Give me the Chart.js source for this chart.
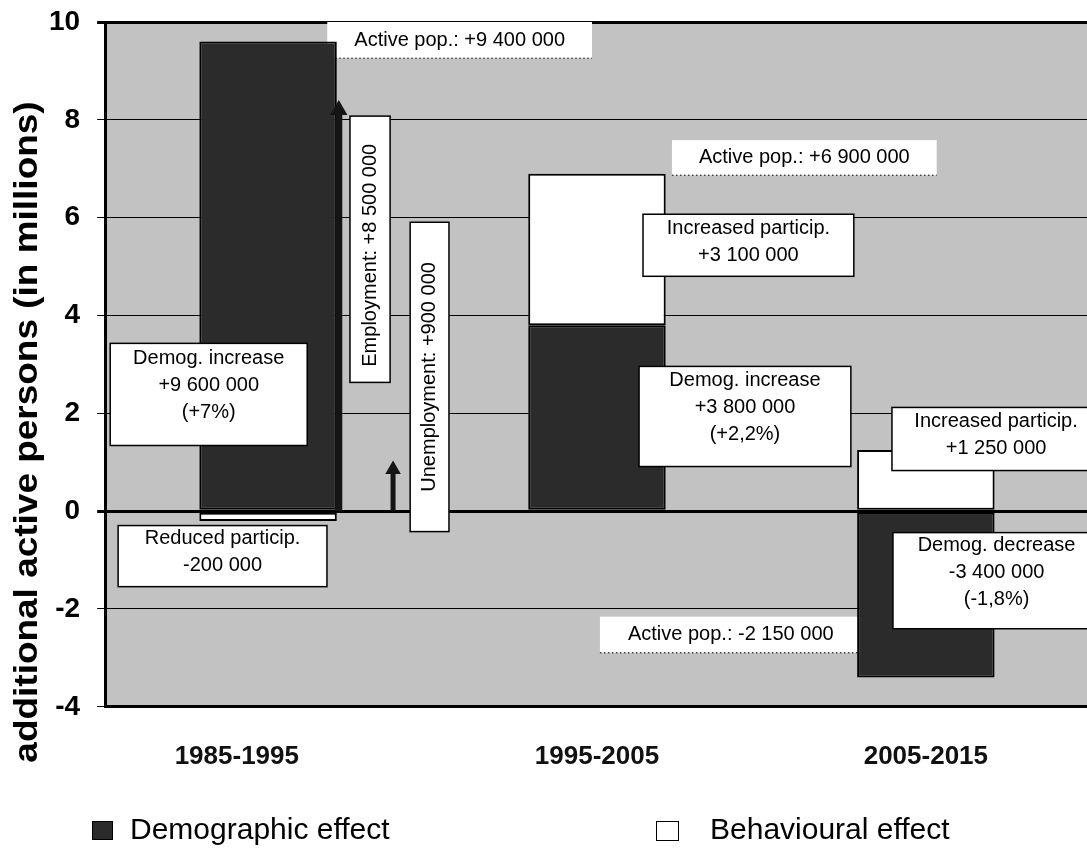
<!DOCTYPE html>
<html>
<head>
<meta charset="utf-8">
<script src="https://cdn.jsdelivr.net/npm/chart.js@4.4.1/dist/chart.umd.min.js"></script>
<style>
	html, body { margin: 0; padding: 0; background: #fff; }
</style>
</head>
<body>
<canvas id="labour-graph" width="1087" height="851"></canvas>
<script>
const periods = ["1985-1995", "1995-2005", "2005-2015"];
const demographicEffect = [9.6, 3.8, -3.4];
const behaviouralEffect = [-0.2, 3.1, 1.25];
const yTickValues = [-4, -2, 0, 2, 4, 6, 8, 10];

// the two arrows beside the first bar (employment / unemployment growth)
const arrowTops = [8.2, 0.85];
const arrowSlots = [0.215, 0.38];

// the first period label sits a little left of its bar in the original
const labelShift = [-0.095, 0, 0];

const FONT = "'Liberation Sans', Arial, sans-serif";
const DARK = "#2b2b2b";
const PLOT_BG = "#c2c2c2";

// text boxes, extents given in axis units
const notes = [
	{ lines: ["Active pop.: +9 400 000"], x: [0.18, 0.985], y: [10, 9.26], plain: true },
	{ lines: ["Active pop.: +6 900 000"], x: [1.228, 2.033], y: [7.585, 6.868], plain: true },
	{ lines: ["Active pop.: -2 150 000"], x: [1.009, 1.805], y: [-2.158, -2.895], plain: true },
	{ lines: ["Employment: +8 500 000"], x: [0.249, 0.371], y: [8.076, 2.632], vertical: true, dy: 6 },
	{ lines: ["Unemployment: +900 000"], x: [0.432, 0.55], y: [5.906, -0.418], vertical: true },
	{ lines: ["Demog. increase", "+9 600 000", "(+7%)"], x: [-0.48, 0.119], y: [3.43, 1.342], dy: -9 },
	{ lines: ["Reduced particip.", "-200 000"], x: [-0.456, 0.179], y: [-0.295, -1.544], dy: -4 },
	{ lines: ["Increased particip.", "+3 100 000"], x: [1.14, 1.781], y: [6.07, 4.801], dy: -3 },
	{ lines: ["Demog. increase", "+3 800 000", "(+2,2%)"], x: [1.128, 1.772], y: [2.959, 0.912], dy: -9 },
	{ lines: ["Increased particip.", "+1 250 000"], x: [1.897, 2.53], y: [2.12, 0.83], dy: -4 },
	{ lines: ["Demog. decrease", "-3 400 000", "(-1,8%)"], x: [1.9, 2.53], y: [-0.439, -2.404], dy: -8 }
];

function drawNote(chart, n) {
	const ctx = chart.ctx;
	const xs = chart.scales.x, ys = chart.scales.y;
	const l = xs.getPixelForValue(n.x[0]), r = xs.getPixelForValue(n.x[1]);
	const t = ys.getPixelForValue(n.y[0]), b = ys.getPixelForValue(n.y[1]);
	ctx.save();
	ctx.fillStyle = "#fff";
	ctx.fillRect(l, t, r - l, b - t);
	if (!n.plain) {
		ctx.strokeStyle = "#000";
		ctx.lineWidth = 1.5;
		ctx.strokeRect(l, t, r - l, b - t);
	} else {
		// dotted lower edge, as in the print
		ctx.strokeStyle = "#444";
		ctx.lineWidth = 1.5;
		ctx.setLineDash([1.5, 2.5]);
		ctx.beginPath();
		ctx.moveTo(l, b);
		ctx.lineTo(r, b);
		ctx.stroke();
		ctx.setLineDash([]);
	}
	ctx.fillStyle = "#000";
	ctx.font = "20px " + FONT;
	ctx.textAlign = "center";
	ctx.textBaseline = "middle";
	const cx = (l + r) / 2, cy = (t + b) / 2 + (n.dy || 0);
	if (n.vertical) {
		ctx.translate(cx, cy);
		ctx.rotate(-Math.PI / 2);
		ctx.fillText(n.lines[0], 0, 0);
	} else {
		n.lines.forEach((s, i) => ctx.fillText(s, cx, cy + (i - (n.lines.length - 1) / 2) * 27));
	}
	ctx.restore();
}

const decorations = {
	id: "decorations",
	beforeDraw(chart) {
		const { ctx, chartArea: a } = chart;
		ctx.save();
		ctx.fillStyle = PLOT_BG;
		ctx.fillRect(a.left, a.top, a.right - a.left, a.bottom - a.top);
		ctx.restore();
	},
	beforeDatasetsDraw(chart) {
		notes.filter(n => n.plain).forEach(n => drawNote(chart, n));
	},
	afterDatasetsDraw(chart) {
		notes.filter(n => !n.plain).forEach(n => drawNote(chart, n));
	},
	afterDraw(chart) {
		const ctx = chart.ctx;
		ctx.save();
		// y title
		ctx.translate(28, 432);
		ctx.rotate(-Math.PI / 2);
		ctx.scale(1.12, 1);
		ctx.font = "bold 33px " + FONT;
		ctx.fillStyle = "#000";
		ctx.textAlign = "center";
		ctx.textBaseline = "middle";
		ctx.fillText("additional active persons (in millions)", 0, 0);
		ctx.restore();

		// legend
		ctx.save();
		ctx.font = "30px " + FONT;
		ctx.textBaseline = "middle";
		ctx.lineWidth = 1;
		ctx.strokeStyle = "#000";
		ctx.fillStyle = DARK;
		ctx.fillRect(92, 821, 20, 18);
		ctx.strokeRect(92.5, 821.5, 20, 18);
		ctx.fillStyle = "#fff";
		ctx.fillRect(656, 821, 22, 19);
		ctx.strokeRect(656.5, 821.5, 22, 19);
		ctx.fillStyle = "#000";
		ctx.fillText("Demographic effect", 130, 831);
		ctx.fillText("Behavioural effect", 710, 831);
		ctx.restore();
	}
};

const ctx = document.getElementById("labour-graph");

const arrowSet = (i) => ({
	type: "line",
	stack: "arrow" + i,
	data: [{ x: arrowSlots[i], y: 0 }, { x: arrowSlots[i], y: arrowTops[i] }],
	borderColor: "#151515",
	borderWidth: i === 0 ? 7 : 5,
	pointStyle: "triangle",
	pointRadius: [0, i === 0 ? 10 : 9],
	pointBackgroundColor: "#151515",
	pointBorderWidth: 0,
	fill: false
});

new Chart(ctx, {
	type: "bar",
	data: {
		datasets: [
			arrowSet(0),
			arrowSet(1),
			{
				label: "Demographic effect",
				data: demographicEffect.map((v, i) => ({ x: i, y: v })),
				backgroundColor: DARK,
				borderColor: "#000",
				borderWidth: 2,
				borderSkipped: false
			},
			{
				label: "Behavioural effect",
				data: behaviouralEffect.map((v, i) => ({ x: i, y: v })),
				backgroundColor: "#fff",
				borderColor: "#000",
				borderWidth: 2,
				borderSkipped: false
			}
		]
	},
	options: {
		responsive: false,
		animation: false,
		events: [],
		categoryPercentage: 1,
		barPercentage: 0.418,
		layout: { autoPadding: false, padding: { top: 22, left: 32, right: 0, bottom: 45 } },
		plugins: {
			legend: { display: false },
			tooltip: { enabled: false }
		},
		scales: {
			x: {
				type: "linear",
				stacked: true,
				offset: false,
				min: -0.4954,
				max: 2.49,
				afterBuildTicks: (s) => { s.ticks = periods.map((p, i) => ({ value: i + labelShift[i] })); },
				grid: { display: false, drawTicks: false, offset: false },
				border: { display: true, color: "#000", width: 3 },
				ticks: {
					autoSkip: false,
					maxRotation: 0,
					padding: 34,
					color: "#111",
					font: { family: FONT, size: 26, weight: "bold" },
					callback: (v, i) => periods[i]
				}
			},
			y: {
				stacked: true,
				min: -4,
				max: 10,
				afterBuildTicks: (s) => { s.ticks = yTickValues.map(v => ({ value: v })); },
				grid: {
					color: "#000",
					lineWidth: (c) => (c.tick && (c.tick.value === 0 || c.tick.value === 10)) ? 3 : 1,
					tickLength: 8
				},
				border: { display: true, color: "#000", width: 3 },
				ticks: {
					padding: 17,
					color: "#000",
					font: { family: FONT, size: 28, weight: "bold", lineHeight: 0.3 }
				}
			}
		}
	},
	plugins: [decorations]
});
</script>
</body>
</html>
